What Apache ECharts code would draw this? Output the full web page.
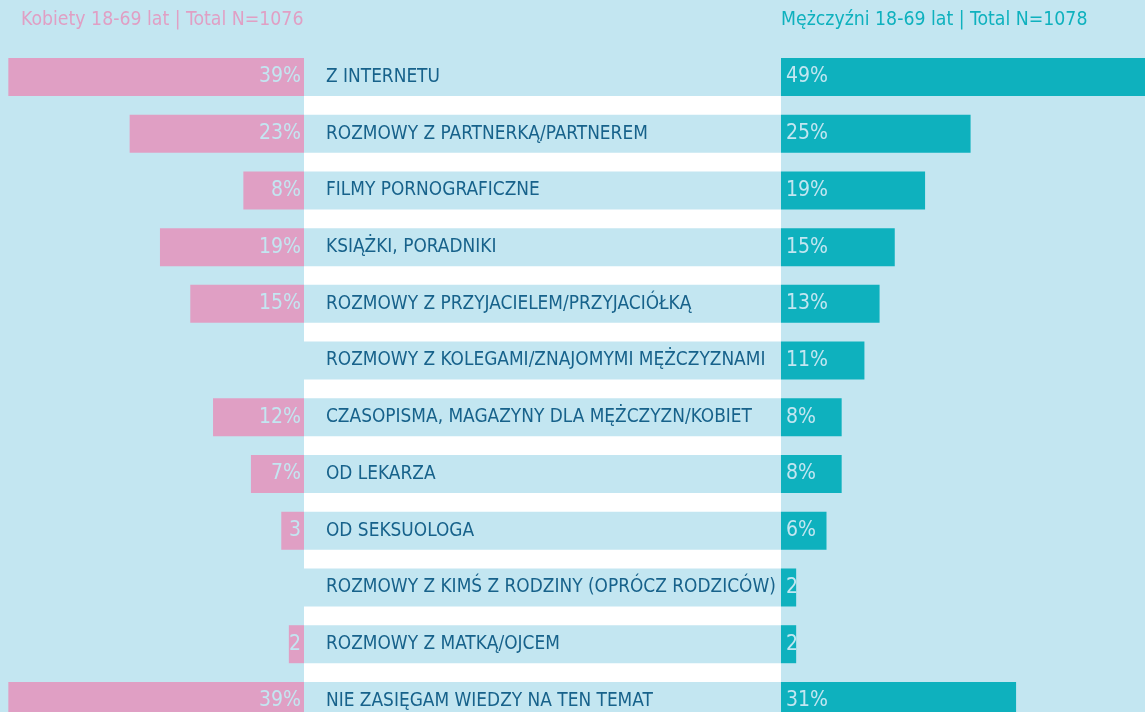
<!DOCTYPE html>
<html>
<head>
<meta charset="utf-8">
<script src="https://cdn.jsdelivr.net/npm/echarts@6/dist/echarts.min.js"></script>
<style>
  html, body { margin: 0; padding: 0; background: #c3e6f1; }
  #chart { width: 1145px; height: 712px; }
</style>
</head>
<body>
<div id="chart"></div>
<script>
var categories = [
    'Z INTERNETU',
    'ROZMOWY Z PARTNERKĄ/PARTNEREM',
    'FILMY PORNOGRAFICZNE',
    'KSIĄŻKI, PORADNIKI',
    'ROZMOWY Z PRZYJACIELEM/PRZYJACIÓŁKĄ',
    'ROZMOWY Z KOLEGAMI/ZNAJOMYMI MĘŻCZYZNAMI',
    'CZASOPISMA, MAGAZYNY DLA MĘŻCZYZN/KOBIET',
    'OD LEKARZA',
    'OD SEKSUOLOGA',
    'ROZMOWY Z KIMŚ Z RODZINY (OPRÓCZ RODZICÓW)',
    'ROZMOWY Z MATKĄ/OJCEM',
    'NIE ZASIĘGAM WIEDZY NA TEN TEMAT'
];
var women = [39, 23, 8, 19, 15, null, 12, 7, 3, null, 2, 39];
var men = [49, 25, 19, 15, 13, 11, 8, 8, 6, 2, 2, 31];

var womenTitle = 'Kobiety 18-69 lat | Total N=1076';
var menTitle = 'Mężczyźni 18-69 lat | Total N=1078';

var font = "'DejaVu Sans Condensed', sans-serif";
var bg = '#c3e6f1';

// small values are shown without the % sign
function pct(p) {
    if (p.value == null) return '';
    return p.value >= 5 ? p.value + '%' : '' + p.value;
}

var dom = document.getElementById('chart');
var myChart = echarts.init(dom);

// 12 rows of ~56.7px, last one runs off the bottom edge
var rowTop = 48.6, rowHeight = 680.7;

var option = {
    backgroundColor: bg,
    animation: false,
    title: [
        {text: womenTitle, left: 21, top: 10, padding: 0,
         textStyle: {color: '#e09fc4', fontFamily: font, fontSize: 19.3, fontWeight: 'normal'}},
        {text: menTitle, left: 781, top: 10, padding: 0,
         textStyle: {color: '#0eb1be', fontFamily: font, fontSize: 19.3, fontWeight: 'normal'}}
    ],
    grid: [
        {left: 0, width: 304, top: rowTop, height: rowHeight, outerBoundsMode: 'none'},
        {left: 304, width: 477, top: rowTop, height: rowHeight, outerBoundsMode: 'none'},
        {left: 781, width: 364, top: rowTop, height: rowHeight, outerBoundsMode: 'none'},
        // white backdrop behind the label column
        {left: 304, width: 477, top: 96, bottom: 0, show: true, backgroundColor: '#fff', borderWidth: 0}
    ],
    xAxis: [
        {gridIndex: 0, type: 'value', inverse: true, min: 0, max: 40.1, show: false},
        {gridIndex: 1, type: 'value', min: 0, max: 1, show: false},
        {gridIndex: 2, type: 'value', min: 0, max: 48, show: false},
        {gridIndex: 3, type: 'value', show: false}
    ],
    yAxis: [
        {gridIndex: 0, type: 'category', data: categories, inverse: true, show: false},
        {gridIndex: 1, type: 'category', data: categories, inverse: true, show: false},
        {gridIndex: 2, type: 'category', data: categories, inverse: true, show: false},
        {gridIndex: 3, type: 'category', show: false}
    ],
    series: [
        {
            type: 'bar', xAxisIndex: 0, yAxisIndex: 0, data: women,
            barWidth: 38, itemStyle: {color: '#e09fc4'},
            label: {show: true, position: 'insideRight', distance: 3, formatter: pct,
                    color: bg, fontFamily: font, fontSize: 21}
        },
        {
            type: 'bar', xAxisIndex: 1, yAxisIndex: 1, z: 3,
            data: categories.map(function () { return 1; }),
            barWidth: 38, itemStyle: {color: bg}, silent: true,
            label: {show: true, position: 'insideLeft', distance: 22, formatter: '{b}',
                    color: '#17628b', fontFamily: font, fontSize: 18.9}
        },
        {
            type: 'bar', xAxisIndex: 2, yAxisIndex: 2, data: men,
            barWidth: 38, itemStyle: {color: '#0eb1be'},
            label: {show: true, position: 'insideLeft', distance: 5, formatter: pct,
                    color: bg, fontFamily: font, fontSize: 21}
        }
    ]
};

myChart.setOption(option);
window.addEventListener('resize', function () { myChart.resize(); });
</script>
</body>
</html>
